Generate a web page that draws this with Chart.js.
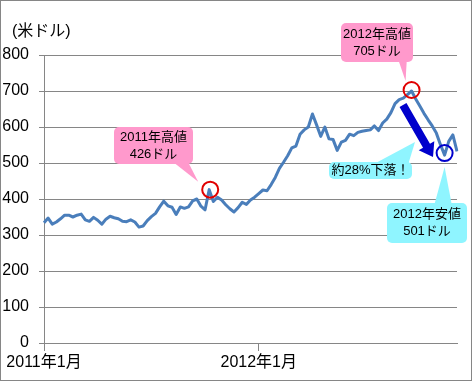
<!DOCTYPE html>
<html>
<head>
<meta charset="utf-8">
<script src="https://cdn.jsdelivr.net/npm/chart.js@4/dist/chart.umd.min.js"></script>
<style>
  html, body { margin: 0; padding: 0; background: #fff; }
  canvas { display: block; }
</style>
</head>
<body>
<canvas id="chart" width="473" height="382"></canvas>
<script>
// weekly price, Jan 2011 - late 2012 (USD)
const prices = [
  334, 347, 330, 336, 345, 355, 355, 350, 355, 358,
  342, 338, 349, 341, 330, 344, 352, 348, 345, 338,
  337, 342, 336, 322, 325, 340, 351, 360, 378, 394,
  381, 377, 357, 378, 374, 378, 395, 400, 380, 370,
  426, 393, 405, 397, 384, 373, 364, 376, 391, 385,
  397, 405, 415, 425, 423, 440, 460, 485, 502, 520,
  542, 547, 580, 592, 600, 636, 606, 574, 600, 567,
  565, 535, 558, 563, 580, 576, 585, 588, 590, 592,
  603, 590, 611, 622, 640, 665, 676, 680, 690, 700,
  678, 658, 638, 620, 603, 583, 551, 522, 560, 578,
  532
];
const xTickLabels = { 0: '2011年1月', 52: '2012年1月' };
const weeks = prices.map((_, i) => xTickLabels[i] || '');
const yTicks = [0, 100, 200, 300, 400, 500, 600, 700, 800];

const high2011 = 40, high2012 = 89, low2012 = 97;

const FONT = "'Liberation Sans', 'Noto Sans CJK JP', sans-serif";
const GRID = '#868686';

function roundRect(ctx, x, y, w, h, r) {
  ctx.beginPath();
  ctx.moveTo(x + r, y);
  ctx.arcTo(x + w, y, x + w, y + h, r);
  ctx.arcTo(x + w, y + h, x, y + h, r);
  ctx.arcTo(x, y + h, x, y, r);
  ctx.arcTo(x, y, x + w, y, r);
  ctx.closePath();
}

function callout(ctx, b, tail, fill, lines) {
  ctx.fillStyle = fill;
  ctx.beginPath();
  ctx.moveTo(tail[0][0], tail[0][1]);
  ctx.lineTo(tail[1][0], tail[1][1]);
  ctx.lineTo(tail[2][0], tail[2][1]);
  ctx.closePath();
  ctx.fill();
  roundRect(ctx, b.x, b.y, b.w, b.h, 5);
  ctx.fill();
  ctx.fillStyle = '#000';
  ctx.font = '13px ' + FONT;
  ctx.textAlign = 'center';
  ctx.textBaseline = 'middle';
  const cx = b.x + b.w / 2;
  const step = 17;
  const y0 = b.y + b.h / 2 - (lines.length - 1) * step / 2;
  lines.forEach((t, i) => ctx.fillText(t, cx, y0 + i * step));
}

function circle(ctx, x, y, color) {
  ctx.strokeStyle = color;
  ctx.lineWidth = 2;
  ctx.beginPath();
  ctx.arc(x, y, 8, 0, Math.PI * 2);
  ctx.stroke();
}

function arrow(ctx, x1, y1, x2, y2, color) {
  const a = Math.atan2(y2 - y1, x2 - x1);
  const len = Math.hypot(x2 - x1, y2 - y1);
  ctx.save();
  ctx.translate(x1, y1);
  ctx.rotate(a);
  ctx.fillStyle = color;
  ctx.beginPath();
  ctx.moveTo(0, -4);
  ctx.lineTo(len - 13, -4);
  ctx.lineTo(len - 13, -9);
  ctx.lineTo(len, 0);
  ctx.lineTo(len - 13, 9);
  ctx.lineTo(len - 13, 4);
  ctx.lineTo(0, 4);
  ctx.closePath();
  ctx.fill();
  ctx.restore();
}

const framePlugin = {
  id: 'frame',
  beforeDraw(chart) {
    const ctx = chart.ctx;
    ctx.save();
    ctx.fillStyle = '#fff';
    ctx.fillRect(0, 0, chart.width, chart.height);
    ctx.strokeStyle = GRID;
    ctx.lineWidth = 1;
    ctx.strokeRect(0.5, 0.5, 471, 380);
    ctx.fillStyle = '#000';
    ctx.font = '16px ' + FONT;
    ctx.textAlign = 'left';
    ctx.textBaseline = 'middle';
    ctx.fillText('(米ドル)', 12, 32);
    ctx.restore();
  }
};

const notesPlugin = {
  id: 'notes',
  afterDatasetsDraw(chart) {
    const ctx = chart.ctx;
    const xs = chart.scales.x, ys = chart.scales.y;
    const pt = i => [xs.getPixelForValue(i), ys.getPixelForValue(prices[i])];
    const h1 = pt(high2011), h2 = pt(high2012), l2 = pt(low2012);
    ctx.save();

    arrow(ctx, 403, 105, 433, 157, '#0000CC');

    callout(ctx, { x: 114, y: 127, w: 79, h: 37 },
      [[168, 158], [186, 158], [h1[0] - 11, h1[1] - 8]], '#FF99CC', ['2011年高値', '426ドル']);
    callout(ctx, { x: 341, y: 23, w: 72, h: 39 },
      [[397, 56], [407, 56], [h2[0] - 6, h2[1] - 10]], '#FF99CC', ['2012年高値', '705ドル']);
    callout(ctx, { x: 329, y: 162, w: 83, h: 17 },
      [[372, 165], [408, 165], [415, 142]], '#8FF5FF', ['約28%下落！']);
    callout(ctx, { x: 387, y: 203, w: 80, h: 40 },
      [[434, 206], [452, 206], [l2[0], l2[1] + 12]], '#8FF5FF', ['2012年安値', '501ドル']);

    circle(ctx, h1[0] + 1, h1[1], '#E00000');
    circle(ctx, h2[0], h2[1] - 1, '#E00000');
    circle(ctx, l2[0], l2[1] - 2, '#0000CC');
    ctx.restore();
  }
};

new Chart(document.getElementById('chart'), {
  type: 'line',
  data: {
    labels: weeks,
    datasets: [{
      data: prices,
      borderColor: '#4A7EBB',
      borderWidth: 3,
      pointRadius: 0,
      tension: 0,
      fill: false,
      borderJoinStyle: 'round'
    }]
  },
  options: {
    responsive: false,
    animation: false,
    devicePixelRatio: 1,
    layout: { padding: { top: 55, right: 16, bottom: 0, left: 0 } },
    plugins: { legend: { display: false }, tooltip: { enabled: false } },
    scales: {
      x: {
        type: 'category',
        offset: false,
        grid: { drawOnChartArea: false, tickLength: 8, color: GRID },
        border: { color: GRID },
        ticks: {
          autoSkip: false, maxRotation: 0, padding: 2, color: '#000',
          font: { family: FONT, size: 16 },
          callback: (v, i) => xTickLabels[i] ?? null
        },
        afterFit: s => { s.height = 39; }
      },
      y: {
        min: yTicks[0],
        max: yTicks[yTicks.length - 1],
        afterBuildTicks: s => { s.ticks = yTicks.map(v => ({ value: v })); },
        grid: { color: GRID, tickLength: 5 },
        border: { color: GRID },
        ticks: { padding: 10, color: '#000', font: { family: FONT, size: 16 } },
        afterFit: s => { s.width = 44; }
      }
    }
  },
  plugins: [framePlugin, notesPlugin]
});
</script>
</body>
</html>
